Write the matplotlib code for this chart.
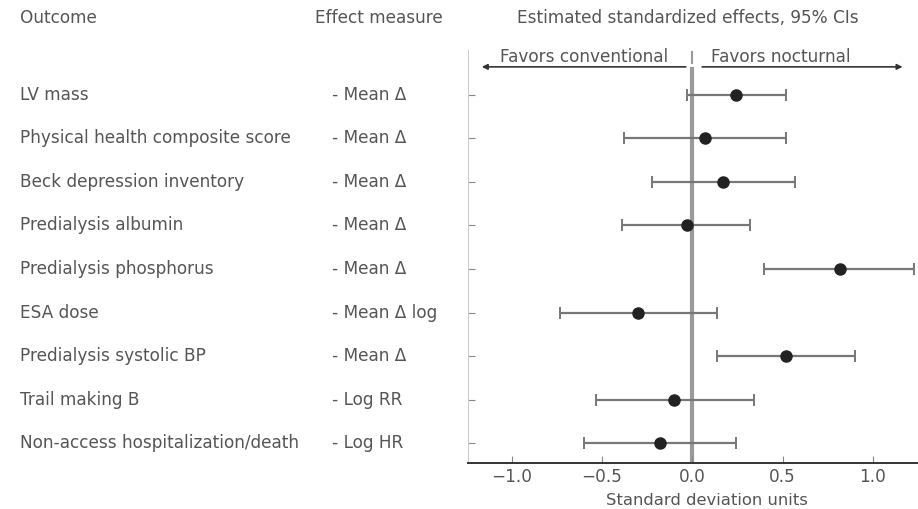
import numpy as np
import matplotlib.pyplot as plt

plt.rcParams['font.family'] = ['DejaVu Sans']

outcomes = ['LV mass', 'Physical health composite score', 'Beck depression inventory',
            'Predialysis albumin', 'Predialysis phosphorus', 'ESA dose',
            'Predialysis systolic BP', 'Trail making B', 'Non-access hospitalization/death']
measures = ['Mean \u0394', 'Mean \u0394', 'Mean \u0394', 'Mean \u0394', 'Mean \u0394',
            'Mean \u0394 log', 'Mean \u0394', 'Log RR', 'Log HR']
effect = [0.24, 0.07, 0.17, -0.03, 0.82, -0.30, 0.52, -0.10, -0.18]
ci_low = [-0.03, -0.38, -0.22, -0.39, 0.40, -0.73, 0.14, -0.53, -0.60]
ci_high = [0.52, 0.52, 0.57, 0.32, 1.23, 0.14, 0.90, 0.34, 0.24]
xticks = [-1.0, -0.5, 0.0, 0.5, 1.0]

txt = '#555555'
fs = 12.2
fig = plt.figure(figsize=(9.18, 5.09), dpi=100)
ax = fig.add_axes([0.51, 0.09, 0.49, 0.812])

y = np.arange(len(outcomes))
effect = np.array(effect)
err = [effect - np.array(ci_low), np.array(ci_high) - effect]

# reference line at zero
ax.plot([0, 0], [-0.58, 8.46], color='#9a9a9a', lw=3, zorder=1)
ax.plot([0, 0], [-0.98, -0.72], color='#9a9a9a', lw=1.5, zorder=1)

ax.errorbar(effect, y, xerr=err, fmt='o', color='#222222', ecolor='#777777',
            elinewidth=1.6, capsize=4, capthick=1.4, markersize=8, zorder=3)

ax.set_xlim(-1.24, 1.25)
ax.set_ylim(8.46, -1.03)
ax.set_xticks(xticks)
ax.set_xticklabels(['\u22121.0', '\u22120.5', '0.0', '0.5', '1.0'], color=txt, fontsize=fs)
ax.set_yticks(y)
ax.set_yticklabels([])
ax.tick_params(axis='both', direction='in', length=5, color='#888888')
ax.set_xlabel('Standard deviation units', color=txt, fontsize=11.8)
ax.xaxis.set_label_coords(0.531, -0.072)

for side in ['top', 'right']:
    ax.spines[side].set_visible(False)
ax.spines['left'].set_color('#cccccc')
ax.spines['bottom'].set_color('#333333')
ax.spines['bottom'].set_linewidth(1.4)

# direction arrows
ax.annotate('', xy=(-1.18, -0.64), xytext=(-0.02, -0.64),
            arrowprops=dict(arrowstyle='-|>', color='#333333', lw=1.2, mutation_scale=8))
ax.annotate('', xy=(1.18, -0.64), xytext=(0.04, -0.64),
            arrowprops=dict(arrowstyle='-|>', color='#333333', lw=1.2, mutation_scale=8))
ax.text(-0.6, -0.86, 'Favors conventional', ha='center', va='center', color=txt, fontsize=fs)
ax.text(0.49, -0.86, 'Favors nocturnal', ha='center', va='center', color=txt, fontsize=fs)

# left-hand table
for i in range(len(outcomes)):
    yf = ax.transData.transform((0, y[i]))[1] / fig.bbox.height
    fig.text(20 / 918, yf, outcomes[i], ha='left', va='center', color=txt, fontsize=fs)
    fig.text(332 / 918, yf, '- ' + measures[i], ha='left', va='center', color=txt, fontsize=fs)

fig.text(20 / 918, 1 - 18 / 509, 'Outcome', ha='left', va='center', color=txt, fontsize=fs)
fig.text(315 / 918, 1 - 18 / 509, 'Effect measure', ha='left', va='center', color=txt, fontsize=fs)
fig.text(688 / 918, 1 - 18 / 509, 'Estimated standardized effects, 95% CIs', ha='center',
         va='center', color=txt, fontsize=fs)

fig.savefig('out.png', dpi=100)
